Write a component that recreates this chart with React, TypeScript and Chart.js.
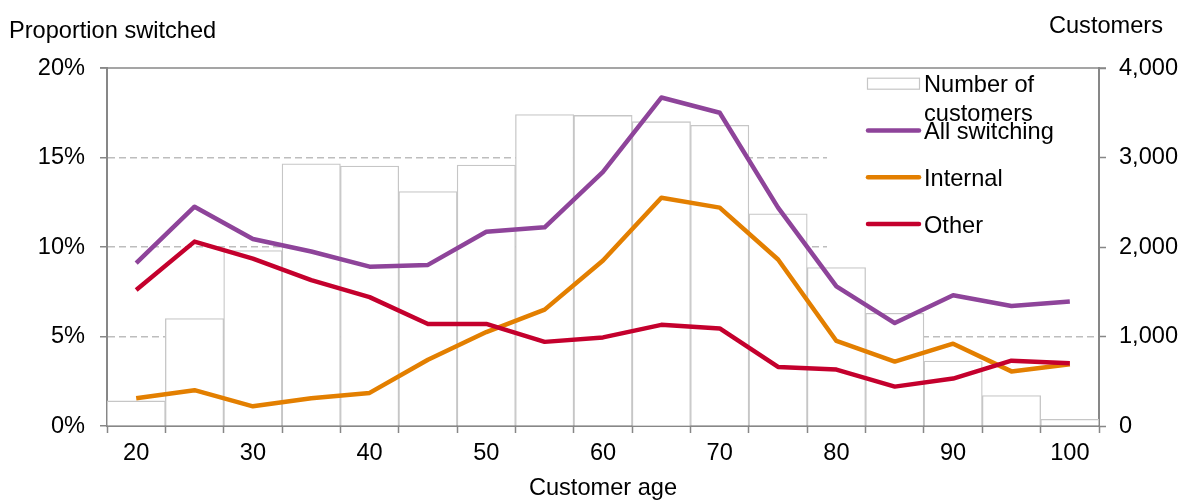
import React, { useEffect, useRef } from "react";
import { Chart, registerables } from "chart.js";

Chart.register(...registerables);

// ---- Data ----
const AGES = [20, 25, 30, 35, 40, 45, 50, 55, 60, 65, 70, 75, 80, 85, 90, 95, 100];
const CUSTOMERS = [280, 1200, 1960, 2930, 2905, 2620, 2915, 3480, 3470, 3400, 3360, 2370, 1770, 1260, 725, 340, 75];
const ALL_SWITCHING = [9.1, 12.25, 10.45, 9.75, 8.9, 9.0, 10.85, 11.1, 14.2, 18.35, 17.5, 12.2, 7.8, 5.75, 7.3, 6.7, 6.95];
const INTERNAL = [1.55, 2.0, 1.1, 1.55, 1.85, 3.7, 5.25, 6.5, 9.25, 12.75, 12.2, 9.3, 4.75, 3.6, 4.6, 3.05, 3.45];
const OTHER = [7.6, 10.3, 9.35, 8.15, 7.2, 5.7, 5.7, 4.7, 4.95, 5.65, 5.45, 3.3, 3.15, 2.2, 2.65, 3.65, 3.5];
const PCT_TICKS = [0, 5, 10, 15, 20];
const CUSTOMER_TICKS = [0, 1000, 2000, 3000, 4000];
const SERIES_NAMES = ["Number of customers", "All switching", "Internal", "Other"];
const LEFT_TITLE = "Proportion switched";
const RIGHT_TITLE = "Customers";
const X_TITLE = "Customer age";

// ---- Styles ----
const PURPLE = "#8E449A";
const ORANGE = "#E37F00";
const RED = "#C4002D";
const BAR_BORDER = "#c6c6c6";
const AXIS_COLOR = "#878787";
const GRID_COLOR = "#bdbdbd";
const FAMILY = "'Liberation Sans', Arial, sans-serif";
const FONT_SIZE = 23.6;

const overlayPlugin = {
  id: "overlay",
  afterDatasetsDraw(chart: any) {
    const { ctx, chartArea } = chart;
    const { left, right, top } = chartArea;
    ctx.save();
    // legend box
    const bx = 827;
    const by = top + 2;
    ctx.fillStyle = "#ffffff";
    ctx.fillRect(bx, by, right - 2 - bx, 252 - by);

    // solid top line
    ctx.strokeStyle = AXIS_COLOR;
    ctx.lineWidth = 1.5;
    ctx.beginPath();
    ctx.moveTo(left - 7, top);
    ctx.lineTo(right + 7, top);
    ctx.stroke();

    // legend items
    const sx0 = 867;
    const sx1 = 920;
    const tx = 924;
    const rowGap = 46.8;
    const row0 = 83.7;
    ctx.font = `${FONT_SIZE}px ${FAMILY}`;
    ctx.fillStyle = "#000";
    ctx.textAlign = "left";
    ctx.textBaseline = "alphabetic";
    const colors = [null, PURPLE, ORANGE, RED];
    SERIES_NAMES.forEach((name, i) => {
      const ry = row0 + i * rowGap;
      if (i === 0) {
        ctx.fillStyle = "#fff";
        ctx.fillRect(sx0, ry - 5.5, sx1 - sx0, 11);
        ctx.strokeStyle = BAR_BORDER;
        ctx.lineWidth = 1.2;
        ctx.strokeRect(sx0 + 0.5, ry - 5.5, sx1 - sx0 - 1, 11);
      } else {
        ctx.strokeStyle = colors[i] as string;
        ctx.lineWidth = 4.5;
        ctx.lineCap = "round";
        ctx.beginPath();
        ctx.moveTo(sx0 + 1, ry);
        ctx.lineTo(sx1 - 1, ry);
        ctx.stroke();
      }
      // word wrap
      const maxW = right - tx - 4;
      const words = name.split(" ");
      const lines: string[] = [];
      let cur = "";
      words.forEach((w) => {
        const test = cur ? cur + " " + w : w;
        if (ctx.measureText(test).width > maxW && cur) {
          lines.push(cur);
          cur = w;
        } else cur = test;
      });
      if (cur) lines.push(cur);
      ctx.fillStyle = "#000";
      lines.forEach((ln, k) => ctx.fillText(ln, tx, ry + 8.5 + k * 29));
    });

    // axis titles
    ctx.fillStyle = "#000";
    ctx.textAlign = "left";
    ctx.fillText(LEFT_TITLE, 9, 38);
    ctx.textAlign = "right";
    ctx.fillText(RIGHT_TITLE, 1163, 32.5);
    ctx.restore();
  },
};

export default function App() {
  const ref = useRef<HTMLCanvasElement>(null);
  useEffect(() => {
    const canvas = ref.current;
    if (!canvas) return;
    const font = { family: FAMILY, size: FONT_SIZE };
    const chart = new Chart(canvas, {
      type: "bar",
      data: {
        labels: AGES.map(String),
        datasets: [
          {
            type: "line",
            label: SERIES_NAMES[1],
            data: ALL_SWITCHING,
            yAxisID: "y",
            borderColor: PURPLE,
            backgroundColor: PURPLE,
            borderWidth: 4.5,
            pointRadius: 0,
            tension: 0,
            borderJoinStyle: "round",
            order: 3,
          },
          {
            type: "line",
            label: SERIES_NAMES[2],
            data: INTERNAL,
            yAxisID: "y",
            borderColor: ORANGE,
            backgroundColor: ORANGE,
            borderWidth: 4.5,
            pointRadius: 0,
            tension: 0,
            borderJoinStyle: "round",
            order: 2,
          },
          {
            type: "line",
            label: SERIES_NAMES[3],
            data: OTHER,
            yAxisID: "y",
            borderColor: RED,
            backgroundColor: RED,
            borderWidth: 4.5,
            pointRadius: 0,
            tension: 0,
            borderJoinStyle: "round",
            order: 1,
          },
          {
            type: "bar",
            label: SERIES_NAMES[0],
            data: CUSTOMERS,
            yAxisID: "y1",
            backgroundColor: "#ffffff",
            borderColor: BAR_BORDER,
            borderWidth: 1.3,
            barPercentage: 1,
            categoryPercentage: 1,
            order: 4,
          },
        ] as any,
      },
      options: {
        responsive: false,
        animation: false,
        devicePixelRatio: 1,
        layout: { padding: { top: 68, left: 0, right: 0, bottom: 0 } },
        plugins: {
          legend: { display: false },
          tooltip: { enabled: false },
          title: { display: false },
        },
        scales: {
          x: {
            offset: true,
            grid: {
              offset: true,
              drawOnChartArea: false,
              tickColor: AXIS_COLOR,
              tickLength: 7,
              tickWidth: 1.5,
            },
            border: { color: AXIS_COLOR, width: 2 },
            ticks: {
              autoSkip: false,
              maxRotation: 0,
              font,
              color: "#000",
              padding: 6,
              callback: (_v: any, i: number) => (i % 2 === 0 ? String(AGES[i]) : ""),
            },
            title: {
              display: true,
              text: X_TITLE,
              color: "#000",
              font: { family: FAMILY, size: FONT_SIZE, lineHeight: 1 },
              padding: { top: 0, bottom: 0 },
            },
            afterFit: (s: any) => {
              s.height = 74;
            },
          },
          y: {
            position: "left",
            min: 0,
            max: 20,
            afterBuildTicks: (s: any) => {
              s.ticks = PCT_TICKS.map((v) => ({ value: v }));
            },
            ticks: {
              font,
              color: "#000",
              padding: 15,
              callback: (v: any) => `${v}%`,
            },
            grid: {
              color: (c: any) =>
                c.tick && (c.tick.value === 0 || c.tick.value === 20) ? "rgba(0,0,0,0)" : GRID_COLOR,
              lineWidth: 1.5,
              tickColor: AXIS_COLOR,
              tickLength: 7,
              tickWidth: 1.5,
            },
            border: { color: AXIS_COLOR, width: 2, dash: [7, 4] },
            afterFit: (s: any) => {
              s.width = 107;
            },
          },
          y1: {
            position: "right",
            min: 0,
            max: 4000,
            afterBuildTicks: (s: any) => {
              s.ticks = CUSTOMER_TICKS.map((v) => ({ value: v }));
            },
            ticks: {
              font,
              color: "#000",
              padding: 13,
              callback: (v: any) => Number(v).toLocaleString("en-US"),
            },
            grid: {
              drawOnChartArea: false,
              tickColor: AXIS_COLOR,
              tickLength: 7,
              tickWidth: 1.5,
            },
            border: { color: AXIS_COLOR, width: 2 },
            afterFit: (s: any) => {
              s.width = 83;
            },
          },
        },
      } as any,
      plugins: [overlayPlugin],
    });
    return () => chart.destroy();
  }, []);

  return (
    <div style={{ position: "fixed", left: 0, top: 0, width: 1182, height: 500, background: "#fff" }}>
      <canvas ref={ref} width={1182} height={500} style={{ display: "block", width: 1182, height: 500 }} />
    </div>
  );
}
